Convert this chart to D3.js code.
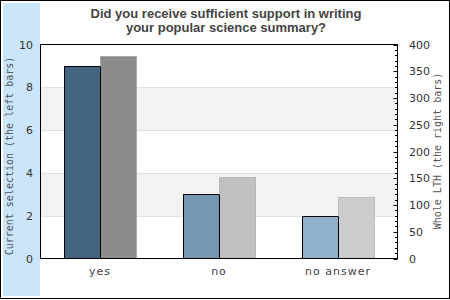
<!DOCTYPE html>
<html lang="en">
<head>
  <meta charset="UTF-8" />
  <title>Popular science summary support</title>
  <script src="https://d3js.org/d3.v7.min.js"></script>
  <style>
    body { margin: 0; padding: 0; background: #fff; }
    svg { display: block; }
    .tick-label { font-family: "DejaVu Sans", sans-serif; font-size: 11px; fill: #333; }
    .axis-title { font-family: "DejaVu Sans Mono", monospace; font-size: 10px; fill: #555; }
    .cat-label { font-family: "DejaVu Sans", sans-serif; font-size: 11px; fill: #444; letter-spacing: 1px; }
    .title { font-family: "Liberation Sans", Arial, sans-serif; font-size: 13px; font-weight: bold; fill: #444; }
  </style>
</head>
<body>
  <svg width="450" height="300"></svg>
  <script>
    const categories = ["yes", "no", "no answer"];
    const currentSelection = [9, 3, 2];
    const wholeLTH = [378, 152, 115];
    const leftColors = ["#436582", "#7596b0", "#8fb1cc"];
    const rightColors = ["#8c8c8c", "#c0c0c0", "#cccccc"];
    const rightStrokes = ["#aaaaaa", "#b8b8b8", "#bdbdbd"];
    const leftTicks = [0, 2, 4, 6, 8, 10];
    const rightTicks = [0, 50, 100, 150, 200, 250, 300, 350, 400];

    const svg = d3.select("svg");
    const plot = { left: 40.5, right: 397.5, top: 44.5, bottom: 258.5 };

    // frame and side panel
    svg.append("rect").attr("x", 3).attr("y", 3).attr("width", 37).attr("height", 293)
      .attr("fill", "#cbe6fb");
    svg.append("rect").attr("x", 0.5).attr("y", 0.5).attr("width", 449).attr("height", 298)
      .attr("fill", "none").attr("stroke", "#000");

    const x = d3.scaleBand().domain(categories).range([plot.left, plot.right]);
    const yL = d3.scaleLinear().domain([0, 10]).range([plot.bottom, plot.top]);
    const yR = d3.scaleLinear().domain([0, 400]).range([plot.bottom, plot.top]);
    const barW = 36;

    // alternating grid bands
    for (let i = 0; i < leftTicks.length - 1; i++) {
      if (i % 2 === 1) {
        svg.append("rect")
          .attr("x", plot.left).attr("width", plot.right - plot.left)
          .attr("y", yL(leftTicks[i + 1])).attr("height", yL(leftTicks[i]) - yL(leftTicks[i + 1]))
          .attr("fill", "#f2f2f2");
      }
    }
    leftTicks.slice(1, -1).forEach(t => {
      svg.append("line")
        .attr("x1", plot.left).attr("x2", plot.right)
        .attr("y1", Math.round(yL(t)) + 0.5).attr("y2", Math.round(yL(t)) + 0.5)
        .attr("stroke", "#e0e0e0");
    });

    // bars
    categories.forEach((c, i) => {
      const cx = x(c) + x.bandwidth() / 2;
      svg.append("rect")
        .attr("x", Math.round(cx - barW) + 0.5).attr("width", barW)
        .attr("y", Math.round(yL(currentSelection[i])) + 0.5)
        .attr("height", plot.bottom - Math.round(yL(currentSelection[i])) - 0.5)
        .attr("fill", leftColors[i]).attr("stroke", "#000");
      svg.append("rect")
        .attr("x", Math.round(cx) + 0.5).attr("width", barW)
        .attr("y", Math.round(yR(wholeLTH[i])) + 0.5)
        .attr("height", plot.bottom - Math.round(yR(wholeLTH[i])) - 0.5)
        .attr("fill", rightColors[i]).attr("stroke", rightStrokes[i]);
      svg.append("line")
        .attr("x1", Math.round(cx) + 0.5).attr("x2", Math.round(cx) + 0.5)
        .attr("y1", Math.round(yL(currentSelection[i])) + 0.5).attr("y2", plot.bottom)
        .attr("stroke", "#000");
      svg.append("text").attr("class", "cat-label")
        .attr("x", cx).attr("y", 275).attr("text-anchor", "middle").text(c);
    });

    // plot border
    svg.append("rect").attr("x", plot.left).attr("y", plot.top)
      .attr("width", plot.right - plot.left).attr("height", plot.bottom - plot.top)
      .attr("fill", "none").attr("stroke", "#000");

    // left axis labels
    leftTicks.forEach(t => {
      svg.append("text").attr("class", "tick-label")
        .attr("x", 33).attr("y", yL(t) + 4).attr("text-anchor", "end").text(t);
    });

    // right axis ticks (minor every 10, major every 50)
    d3.range(0, 401, 10).forEach(v => {
      const yy = Math.round(yR(v)) + 0.5;
      svg.append("line")
        .attr("x1", plot.right - (v % 50 === 0 ? 4 : 2.5)).attr("x2", plot.right)
        .attr("y1", yy).attr("y2", yy).attr("stroke", "#000");
    });
    rightTicks.forEach(t => {
      svg.append("text").attr("class", "tick-label")
        .attr("x", 409).attr("y", yR(t) + 4).text(t);
    });

    // axis titles
    svg.append("text").attr("class", "axis-title")
      .attr("transform", "translate(13,156) rotate(-90)")
      .attr("text-anchor", "middle").text("Current selection (the left bars)");
    svg.append("text").attr("class", "axis-title")
      .attr("transform", "translate(441,151) rotate(-90)")
      .attr("text-anchor", "middle").text("Whole LTH (the right bars)");

    // title
    const title = svg.append("text").attr("class", "title").attr("text-anchor", "middle");
    title.append("tspan").attr("x", 226).attr("y", 18).text("Did you receive sufficient support in writing");
    title.append("tspan").attr("x", 226).attr("y", 32).text("your popular science summary?");
  </script>
</body>
</html>
